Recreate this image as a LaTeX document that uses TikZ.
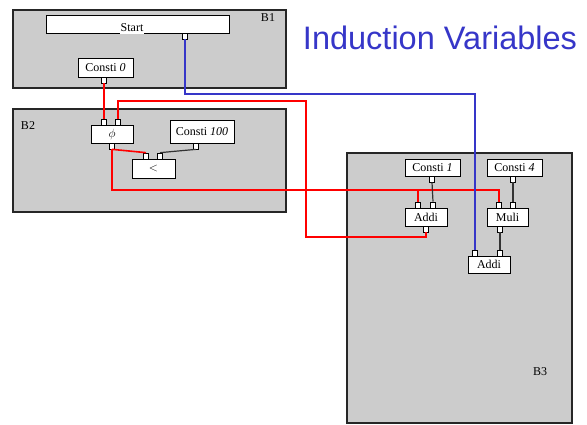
\documentclass[tikz,border=0pt]{standalone}
\usepackage{fontspec}
\setmainfont{Liberation Serif}
\newfontfamily\titlefont{Liberation Sans}
\usetikzlibrary{positioning}
\definecolor{blockgray}{HTML}{CCCCCC}
\definecolor{wireblue}{HTML}{3636C8}
\tikzset{
    x=1pt, y=-1pt, % one unit per pixel, y grows downwards
    block/.style={draw=black!85, line width=1.3pt, fill=blockgray}, % the basic blocks B1..B3
    op/.style={draw, line width=0.8pt, fill=white, inner sep=0pt, font=\fontsize{12}{12}\selectfont}, % an instruction
    port/.style={draw, line width=0.7pt, fill=white, inner sep=0pt, minimum width=5pt, minimum height=6pt}, % in/out pins
    redwire/.style={draw=red, line width=1.6pt},
    bluewire/.style={draw=wireblue, line width=1.3pt},
    blackwire/.style={draw=black!80, line width=1.2pt},
    lbl/.style={font=\fontsize{12}{12}\selectfont},
}
\begin{document}
\begin{tikzpicture}
    \useasboundingbox (0,0) rectangle (587,424);
    % blocks
    \draw[block] (13,10) rectangle (286,88);
    \draw[block] (13,109) rectangle (286,212);
    \draw[block] (347,153) rectangle (572,423);
    \node[lbl] (b1) at (268,18) {B1};
    \node[lbl] (b2) at (28,126) {B2};
    \node[lbl] (b3) at (540,372) {B3};
    \node[text=wireblue, font=\titlefont\fontsize{32.5}{32.5}\selectfont, anchor=base] (title) at (440,49) {Induction Variables};

    % instructions
    \node[op, minimum width=183pt, minimum height=18pt] (st) at (137.5,24) {};
    \node[lbl, fill=white, inner xsep=1pt, inner ysep=2.5pt, anchor=base] (stl) at (132,31) {Start};
    \node[op, minimum width=55pt, minimum height=19pt] (c0) at (105.5,67.5) {Consti \textit{0}};
    \node[op, minimum width=42pt, minimum height=18pt] (phi) at (112,134) {$\phi$};
    \node[op, minimum width=64pt, minimum height=23pt] (c100) at (202,131.5) {Consti \textit{100}};
    \node[op, minimum width=43pt, minimum height=19pt] (lt) at (153.5,168.5) {$<$};
    \node[op, minimum width=55pt, minimum height=17pt] (c1) at (432.5,167.5) {Consti \textit{1}};
    \node[op, minimum width=55pt, minimum height=17pt] (c4) at (514.5,167.5) {Consti \textit{4}};
    \node[op, minimum width=42pt, minimum height=18pt] (a1) at (426,217) {Addi};
    \node[op, minimum width=41pt, minimum height=18pt] (mu) at (507.5,217) {Muli};
    \node[op, minimum width=42pt, minimum height=17pt] (a2) at (489,264.5) {Addi};

    % pins
    \node[port] (sto) at (185,36) {};
    \node[port] (c0o) at (104,80) {};
    \node[port] (phii1) at (104,122) {};
    \node[port] (phii2) at (118,122) {};
    \node[port] (phio) at (112,146) {};
    \node[port] (c100o) at (196,146) {};
    \node[port] (lti1) at (146,156) {};
    \node[port] (lti2) at (160,156) {};
    \node[port] (c1o) at (432,179) {};
    \node[port] (c4o) at (513,179) {};
    \node[port] (a1i1) at (418,205) {};
    \node[port] (a1i2) at (433,205) {};
    \node[port] (a1o) at (426,229) {};
    \node[port] (mui1) at (499,205) {};
    \node[port] (mui2) at (513,205) {};
    \node[port] (muo) at (500,229) {};
    \node[port] (a2i1) at (475,253) {};
    \node[port] (a2i2) at (500,253) {};

    % lanes for the long wires
    \coordinate (bluelane) at (0,94);
    \coordinate (backtop) at (306,101);
    \coordinate (backbot) at (306,237);
    \coordinate (phlane) at (0,190);

    % wires
    \draw[redwire] (c0o.south) -- (phii1.north);
    \draw[redwire] (phii2.north) |- (backtop) -- (backbot) -| (a1o.south);
    \draw[redwire] (phio.south) -- (lti1.north);
    \draw[redwire] (phio.south) |- (phlane -| mui1) -- (mui1.north);
    \draw[redwire] (phlane -| a1i1) -- (a1i1.north);
    \draw[bluewire] (sto.south) |- (bluelane -| a2i1) -- (a2i1.north);
    \draw[blackwire] (c100o.south) -- (lti2.north);
    \draw[blackwire] (c1o.south) -- (a1i2.north);
    \draw[blackwire] (c4o.south) -- (mui2.north);
    \draw[blackwire] (muo.south) -- (a2i2.north);
\end{tikzpicture}
\end{document}
